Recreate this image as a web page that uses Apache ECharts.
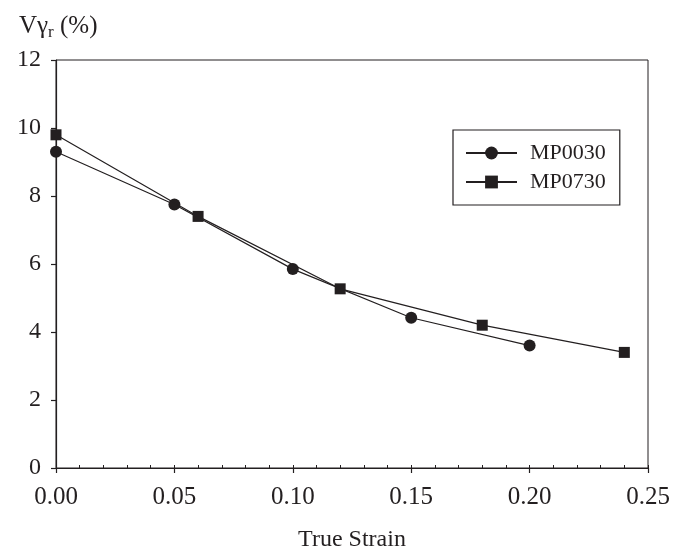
<!DOCTYPE html>
<html>
<head>
<meta charset="utf-8">
<script src="https://cdn.jsdelivr.net/npm/echarts@6/dist/echarts.min.js"></script>
<style>html,body{margin:0;padding:0;background:#fff}#c{width:687px;height:557px}</style>
</head>
<body>
<div id="c"></div>
<script>
const seriesNames = ['MP0030', 'MP0730'];
const strainA = [0, 0.05, 0.10, 0.15, 0.20];
const valuesA = [9.3, 7.75, 5.85, 4.42, 3.6];
const strainB = [0, 0.06, 0.12, 0.18, 0.24];
const valuesB = [9.8, 7.4, 5.27, 4.2, 3.4];
const xTicks = [0, 0.05, 0.10, 0.15, 0.20, 0.25];
const yTicks = [0, 2, 4, 6, 8, 10, 12];

const ink = '#231f20';
const font = 'Liberation Serif';
const chart = echarts.init(document.getElementById('c'));
chart.setOption({
  animation: false,
  backgroundColor: '#fff',
  title: {
    text: 'V{g|γ}{s|r} {p|(%)}',
    left: 14, top: 6,
    textStyle: {
      fontFamily: font, fontSize: 25, color: ink, fontWeight: 'normal',
      rich: {
        g: {fontFamily: font, fontSize: 25, color: ink},
        s: {fontFamily: font, fontSize: 17, color: ink, verticalAlign: 'bottom', padding: [13, 0, 0, 0]},
        p: {fontFamily: font, fontSize: 25, color: ink}
      }
    }
  },
  grid: {left: 56, right: 39, top: 60, bottom: 83, show: true, borderColor: ink, borderWidth: 1, backgroundColor: 'transparent'},
  legend: {
    orient: 'vertical',
    left: 453, top: 130,
    padding: [12, 14, 12, 12],
    itemGap: 7,
    itemWidth: 51, itemHeight: 16,
    borderColor: ink, borderWidth: 1.2,
    textStyle: {fontFamily: font, fontSize: 22, color: ink, padding: [0, 0, 0, 8]},
    data: seriesNames
  },
  xAxis: [{
    type: 'value', min: xTicks[0], max: xTicks[xTicks.length - 1], interval: 0.05,
    name: 'True Strain', nameLocation: 'middle', nameGap: 60,
    nameTextStyle: {fontFamily: font, fontSize: 24, color: ink},
    axisLine: {show: true, lineStyle: {color: ink, width: 1.2}},
    axisTick: {show: true, inside: false, length: 5, lineStyle: {color: ink, width: 1.2}},
    axisLabel: {margin: 17, fontFamily: font, fontSize: 25, color: ink, formatter: v => v.toFixed(2)},
    splitLine: {show: false}
  }, {
    type: 'value', min: 0, max: 0.25, interval: 0.01, position: 'bottom',
    axisLine: {show: false},
    axisTick: {show: true, inside: true, length: 3, lineStyle: {color: ink, width: 1}},
    axisLabel: {show: false},
    splitLine: {show: false}
  }],
  yAxis: {
    type: 'value', min: yTicks[0], max: yTicks[yTicks.length - 1], interval: 2,
    axisLine: {show: true, lineStyle: {color: ink, width: 1.2}},
    axisTick: {show: true, inside: false, length: 5, lineStyle: {color: ink, width: 1.2}},
    axisLabel: {margin: 15, fontFamily: font, fontSize: 24, color: ink},
    splitLine: {show: false}
  },
  series: [{
    name: seriesNames[0], type: 'line', xAxisIndex: 0,
    data: strainA.map((x, i) => [x, valuesA[i]]),
    symbol: 'circle', symbolSize: 12,
    lineStyle: {color: ink, width: 1.2},
    itemStyle: {color: ink},
    z: 3
  }, {
    name: seriesNames[1], type: 'line', xAxisIndex: 0,
    data: strainB.map((x, i) => [x, valuesB[i]]),
    symbol: 'rect', symbolSize: 11,
    lineStyle: {color: ink, width: 1.2},
    itemStyle: {color: ink},
    z: 4
  }]
});
</script>
</body>
</html>
